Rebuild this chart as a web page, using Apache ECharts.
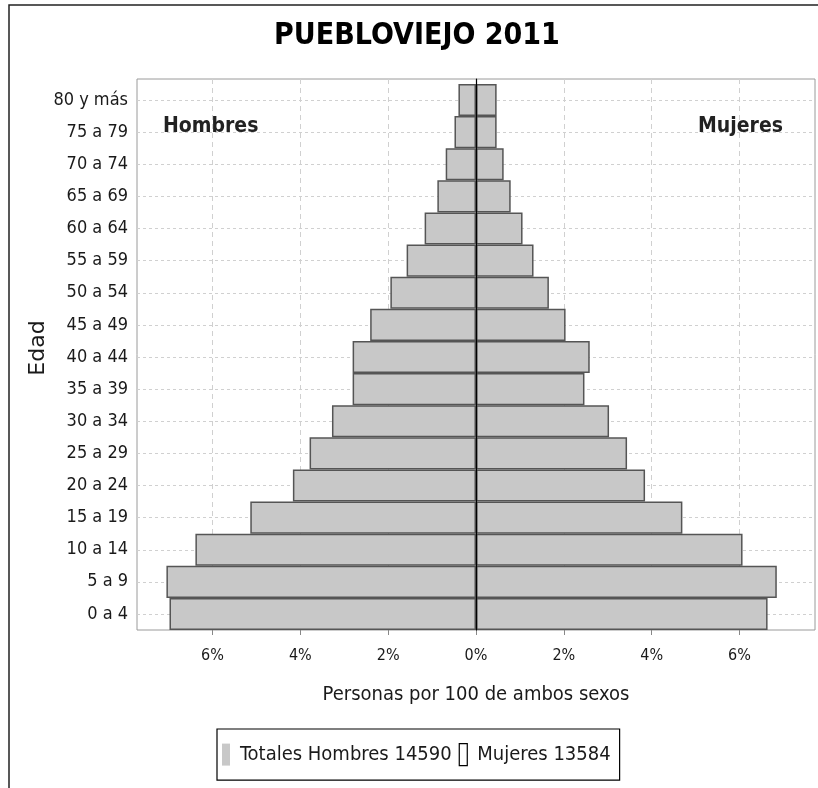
<!DOCTYPE html>
<html>
<head>
<meta charset="utf-8">
<script src="https://cdn.jsdelivr.net/npm/echarts@6/dist/echarts.min.js"></script>
<style>html,body{margin:0;padding:0;background:#fff}#c{width:818px;height:788px}</style>
</head>
<body>
<div id="c"></div>
<script>
// ---- data (percent of total population) ----
const categories = ['0 a 4','5 a 9','10 a 14','15 a 19','20 a 24','25 a 29','30 a 34','35 a 39','40 a 44','45 a 49','50 a 54','55 a 59','60 a 64','65 a 69','70 a 74','75 a 79','80 y más'];
const hombres = [6.98, 7.05, 6.39, 5.14, 4.17, 3.79, 3.28, 2.81, 2.81, 2.41, 1.95, 1.58, 1.17, 0.88, 0.69, 0.49, 0.40];
const mujeres = [6.64, 6.85, 6.07, 4.70, 3.85, 3.44, 3.03, 2.47, 2.59, 2.04, 1.66, 1.31, 1.06, 0.79, 0.63, 0.47, 0.47];
const tickValues = [-6, -4, -2, 0, 2, 4, 6];
const titleText = 'PUEBLOVIEJO 2011';
const nameHombres = 'Totales Hombres 14590';
const nameMujeres = 'Mujeres 13584';
const xTitle = 'Personas por 100 de ambos sexos';
const yTitle = 'Edad';

const NARROW = "'Liberation Sans Narrow','Arial Narrow','DejaVu Sans Condensed','Roboto Condensed',sans-serif";
const XMIN = -7.72, XMAX = 7.72;
const TXT = '#1a1a1a';

const chart = echarts.init(document.getElementById('c'), null, {renderer: 'canvas'});
const pct = v => (Math.abs(v) % 2 === 0 ? Math.abs(v) + '%' : '');

const option = {
  backgroundColor: '#fff',
  animation: false,
  title: [
    {text: titleText, left: 417, top: 21, padding: 0, textAlign: 'center',
     textStyle: {fontFamily: NARROW, fontWeight: 'bold', fontSize: 30, color: '#000'}},
    {text: 'Hombres', left: 163, top: 116, padding: 0,
     textStyle: {fontFamily: NARROW, fontWeight: 'bold', fontSize: 21, color: '#222'}},
    {text: 'Mujeres', right: 35, top: 116, padding: 0,
     textStyle: {fontFamily: NARROW, fontWeight: 'bold', fontSize: 21, color: '#222'}}
  ],
  graphic: [
    {type: 'rect', shape: {x: 9, y: 5, width: 900, height: 900}, style: {fill: 'none', stroke: '#222', lineWidth: 1.5}, silent: true, z: -1},
    {type: 'text', x: 38, y: 348, rotation: Math.PI / 2,
     style: {text: yTitle, fontFamily: "'DejaVu Sans',sans-serif", fontSize: 22, fill: TXT, align: 'center', verticalAlign: 'middle'}}
  ],
  legend: {
    left: 217, top: 729,
    orient: 'horizontal',
    padding: [14, 9, 14, 5],
    borderColor: '#000', borderWidth: 1.2,
    itemWidth: 8, itemHeight: 22, itemGap: 7,
    icon: 'rect',
    selectedMode: false,
    textStyle: {fontFamily: NARROW, fontSize: 20, color: TXT, padding: [0, 0, 0, 5]},
    data: [
      {name: nameHombres, itemStyle: {color: '#c8c8c8', borderWidth: 0}},
      {name: nameMujeres, itemStyle: {color: '#fff', borderColor: '#000', borderWidth: 1.2}}
    ]
  },
  grid: [
    {left: 137, right: 3, top: 84, bottom: 158},          // bars
    {left: 137, right: 3, top: 79, bottom: 158, show: true, borderColor: '#9a9a9a', borderWidth: 1}, // frame, x axis, zero line
    {left: 137, right: 3, top: 100, bottom: 174}           // horizontal grid lines at category centers
  ],
  xAxis: [
    {gridIndex: 0, type: 'value', min: XMIN, max: XMAX, show: false, splitNumber: 8},
    {gridIndex: 1, type: 'value', min: XMIN, max: XMAX, splitNumber: 8,
     axisLine: {show: false},
     axisTick: {show: true, length: 5, lineStyle: {color: '#888'}, customValues: tickValues},
     axisLabel: {formatter: pct, customValues: tickValues, margin: 18, fontFamily: NARROW, fontSize: 16, color: TXT},
     splitLine: {show: true, lineStyle: {color: '#d0d0d0', type: [5, 4], width: 1}},
     name: xTitle, nameLocation: 'middle', nameGap: 55,
     nameTextStyle: {fontFamily: NARROW, fontSize: 20, color: TXT}},
    {gridIndex: 2, type: 'value', min: XMIN, max: XMAX, show: false, splitNumber: 8}
  ],
  yAxis: [
    {gridIndex: 0, type: 'category', data: categories,
     axisLine: {show: false}, axisTick: {show: false},
     splitLine: {show: false},
     axisLabel: {margin: 9, fontFamily: NARROW, fontSize: 18, color: TXT}},
    {gridIndex: 1, type: 'value', z: 5,
     axisLine: {show: true, onZero: true, lineStyle: {color: '#000', width: 1.2}},
     axisTick: {show: false}, axisLabel: {show: false}, splitLine: {show: false}},
    {gridIndex: 2, type: 'category', data: categories, boundaryGap: false,
     axisLine: {show: false}, axisTick: {show: false}, axisLabel: {show: false},
     splitLine: {show: true, lineStyle: {color: '#d0d0d0', type: [3, 3], width: 1}}}
  ],
  series: [
    {name: nameHombres, type: 'bar', xAxisIndex: 0, yAxisIndex: 0, stack: 'p',
     barCategoryGap: '0%',
     data: hombres.map(v => -v),
     itemStyle: {color: '#c8c8c8', borderColor: '#555', borderWidth: 1.5}},
    {name: nameMujeres, type: 'bar', xAxisIndex: 0, yAxisIndex: 0, stack: 'p',
     barCategoryGap: '0%',
     data: mujeres,
     itemStyle: {color: '#c8c8c8', borderColor: '#555', borderWidth: 1.5}}
  ]
};
chart.setOption(option);
</script>
</body>
</html>
